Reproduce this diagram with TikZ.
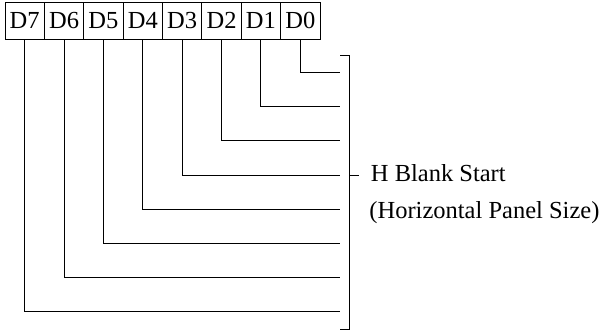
\documentclass[tikz,border=0pt]{standalone}
\usepackage{fontspec}
\setmainfont{Liberation Serif}
\begin{document}
\begin{tikzpicture}[x=1pt,y=-1pt,line width=0.9pt,
  cellbox/.style={draw,minimum width=39.375pt,minimum height=36.5pt,inner sep=0pt,font=\fontsize{24.5}{29}\selectfont},
  lbl/.style={anchor=base west,inner sep=0pt,font=\fontsize{24.5}{29}\selectfont}]
\useasboundingbox (0,0) rectangle (601,331);
\foreach \n [count=\i from 0] in {7,6,5,4,3,2,1,0}{
  \node[cellbox] (d\n) at ({5+39.375*(\i+0.5)},20.75) {D\n};
}
\foreach \n in {0,...,7}{
  \coordinate (e\n) at (340,{72.7+34.1*\n});
  \draw (d\n.south) |- (e\n);
}
\coordinate (bt0) at (340,55);
\coordinate (bt1) at (349.3,55);
\coordinate (bb1) at (349.3,329.3);
\coordinate (bb0) at (340,329.3);
\coordinate (tk0) at (349.3,175);
\coordinate (tk1) at (359,175);
\draw (bt0) -- (bt1) -- (bb1) -- (bb0);
\draw (tk0) -- (tk1);
\node[lbl] (l1) at (370.5,181.7) {H Blank Start};
\node[lbl] (l2) at (369,218.3) {(Horizontal Panel Size)};
\end{tikzpicture}
\end{document}
